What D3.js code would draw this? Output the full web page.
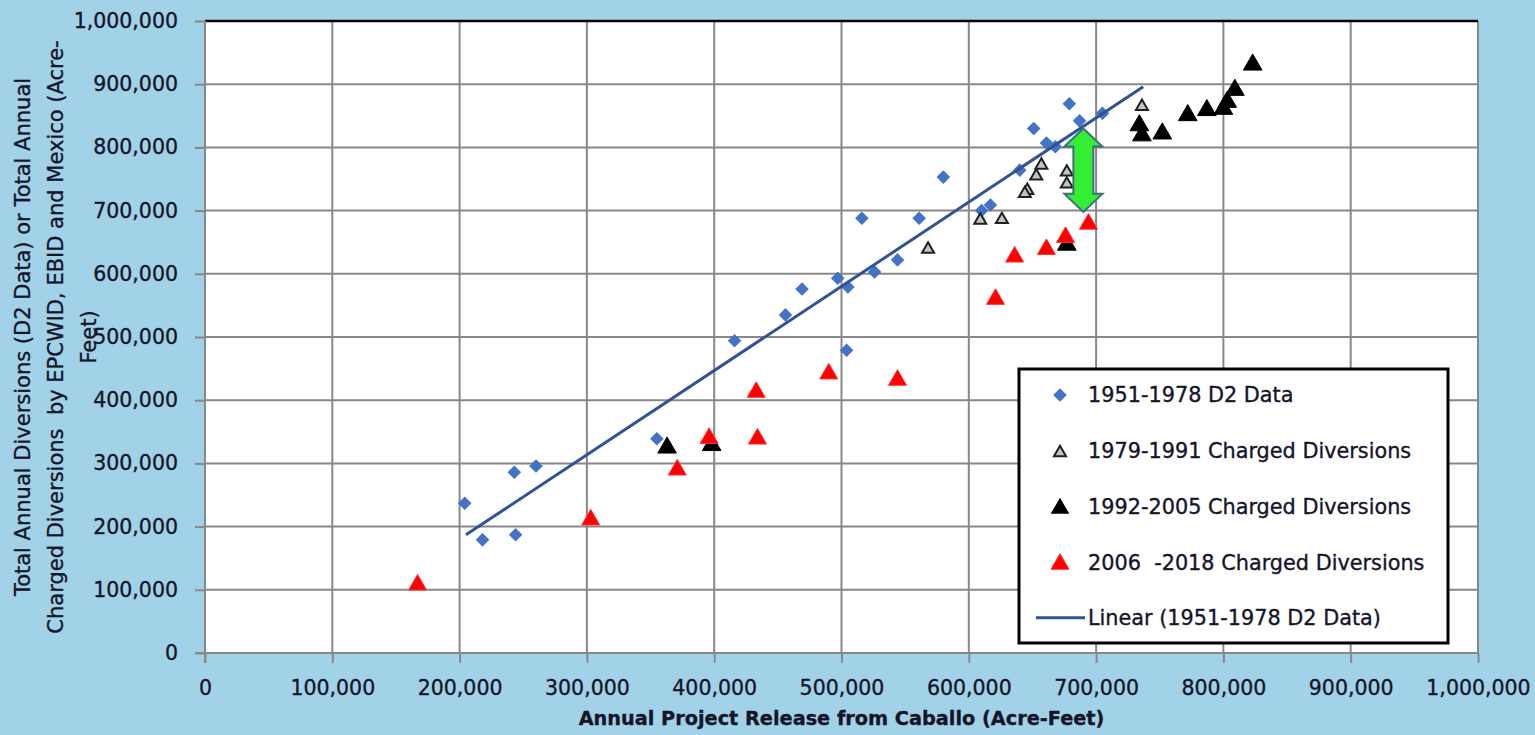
<!DOCTYPE html>
<html>
<head>
<meta charset="utf-8">
<script src="https://cdn.jsdelivr.net/npm/d3@7/dist/d3.min.js"></script>
<style>
  html, body { margin: 0; padding: 0; background: #a1d2e7; }
  svg { display: block; font-family: "DejaVu Sans", Verdana, sans-serif; }
  svg text { white-space: pre; }
</style>
</head>
<body>
<svg id="chart" width="1535" height="735"></svg>
<script>
// Annual project release from Caballo (acre-feet) vs. annual diversions (acre-feet)

// 1951-1978 D2 data
const d2Release   = [204000, 218000, 244000, 243000, 260000, 355000, 416000, 456000, 469000, 497000,
                     505000, 504000, 516000, 526000, 544000, 561000, 580000, 610000, 617000, 640000,
                     651000, 661000, 668000, 679000, 687000, 705000];
const d2Diversion = [237000, 179000, 187000, 286000, 296000, 339000, 494000, 535000, 576000, 593000,
                     579000, 479000, 688000, 603000, 622000, 688000, 753000, 700000, 709000, 764000,
                     830000, 807000, 801000, 869000, 842000, 854000];

// Linear trendline of the D2 data: release range and fitted diversions at its ends
const trendRelease   = [205000, 737000];
const trendDiversion = [187000, 896000];

// 1979-1991 charged diversions
const c7991Release   = [568000, 609000, 626000, 646000, 644000, 657000, 653000, 677000, 677000, 736000];
const c7991Diversion = [642000, 688000, 689000, 735000, 730000, 775000, 758000, 764000, 745000, 868000];

// 1992-2005 charged diversions
const c9205Release   = [363000, 398000, 677000, 734000, 736000, 752000, 772000, 787000, 800000, 803000, 809000, 823000];
const c9205Diversion = [328000, 332000, 649000, 838000, 822000, 825000, 854000, 862000, 864000, 875000, 894000, 934000];

// 2006-2018 charged diversions
const c0618Release   = [167000, 303000, 371000, 396000, 434000, 433000, 490000, 544000, 621000, 636000, 661000, 676000, 694000];
const c0618Diversion = [111000, 214000, 293000, 343000, 342000, 416000, 445000, 435000, 563000, 630000, 642000, 661000, 682000];

// Gap annotation (double arrow between the D2 trend and recent diversions)
const gapRelease = 690000;
const gapTop = 830000;
const gapBottom = 698000;

const xTicks = [0, 100000, 200000, 300000, 400000, 500000, 600000, 700000, 800000, 900000, 1000000];
const yTicks = [0, 100000, 200000, 300000, 400000, 500000, 600000, 700000, 800000, 900000, 1000000];

const legendLabels = [
  "1951-1978 D2 Data",
  "1979-1991 Charged Diversions",
  "1992-2005 Charged Diversions",
  "2006  -2018 Charged Diversions",
  "Linear (1951-1978 D2 Data)"
];

const xTitle = "Annual Project Release from Caballo (Acre-Feet)";
const yTitleLines = [
  "Total Annual Diversions (D2 Data) or Total Annual",
  "Charged Diversions  by EPCWID, EBID and Mexico (Acre-",
  "Feet)"
];

// ---------------------------------------------------------------
const W = 1535, H = 735;
const plot = { left: 205, right: 1478, top: 21, bottom: 653 };
const gridColor = "#888888";
const textColor = "#15152a";
const blue = "#4472c4";
const trendColor = "#2f5496";

const svg = d3.select("#chart");
svg.append("rect").attr("width", W).attr("height", H).attr("fill", "#a1d2e7");

const x = d3.scaleLinear().domain([0, 1000000]).range([plot.left, plot.right]);
const y = d3.scaleLinear().domain([0, 1000000]).range([plot.bottom, plot.top]);

// plot area
svg.append("rect")
  .attr("x", plot.left).attr("y", plot.top)
  .attr("width", plot.right - plot.left).attr("height", plot.bottom - plot.top)
  .attr("fill", "#ffffff");

// gridlines
const grid = svg.append("g");
grid.selectAll("line.v").data(xTicks.filter(d => d > 0)).join("line")
  .attr("x1", d => x(d)).attr("x2", d => x(d))
  .attr("y1", plot.top).attr("y2", plot.bottom)
  .attr("stroke", gridColor).attr("stroke-width", 2);
grid.selectAll("line.h").data(yTicks.filter(d => d > 0)).join("line")
  .attr("x1", plot.left).attr("x2", plot.right)
  .attr("y1", d => y(d)).attr("y2", d => y(d))
  .attr("stroke", gridColor).attr("stroke-width", 2);

// top border of plot area
svg.append("line")
  .attr("x1", plot.left).attr("x2", plot.right)
  .attr("y1", plot.top).attr("y2", plot.top)
  .attr("stroke", "#000").attr("stroke-width", 2.5);

// shared text style
function styleText(sel, size, weight) {
  sel.attr("fill", textColor)
    .attr("stroke", textColor)
    .attr("stroke-width", 0.35)
    .style("font-size", size + "px")
    .style("font-weight", weight || "normal")
    .style("font-family", '"DejaVu Sans", Verdana, sans-serif');
  return sel;
}

// axes
const fmt = d3.format(",");
const xAxis = d3.axisBottom(x).tickValues(xTicks).tickFormat(fmt).tickSize(10).tickPadding(17).tickSizeOuter(0);
const yAxis = d3.axisLeft(y).tickValues(yTicks).tickFormat(fmt).tickSize(10).tickPadding(17).tickSizeOuter(0);

const gx = svg.append("g").attr("transform", `translate(0,${plot.bottom})`).call(xAxis);
const gy = svg.append("g").attr("transform", `translate(${plot.left},0)`).call(yAxis);

[gx, gy].forEach(g => {
  g.select(".domain").attr("stroke", gridColor).attr("stroke-width", 2);
  g.selectAll(".tick line").attr("stroke", gridColor).attr("stroke-width", 2);
  styleText(g.selectAll(".tick text"), 20.5);
});
// axis lines extend past the origin like the tick marks
gx.select(".domain").attr("d", `M${plot.left - 10},0H${plot.right}`);
gy.select(".domain").attr("d", `M0,${plot.top}V${plot.bottom + 10}`);

// markers
const zip = (xs, ys) => xs.map((v, i) => ({ x: v, y: ys[i] }));
const diamond = d3.symbol().type(d3.symbolSquare).size(92)();
const tri = s => d3.symbol().type(d3.symbolTriangle).size(s)();

function drawSeries(data, path, fill, stroke, sw, dy, rotate) {
  svg.append("g").selectAll("path").data(data).join("path")
    .attr("d", path)
    .attr("transform", d => `translate(${x(d.x)},${y(d.y) + dy})` + (rotate ? " rotate(45)" : ""))
    .attr("fill", fill)
    .attr("stroke", stroke)
    .attr("stroke-width", sw);
}

drawSeries(zip(d2Release, d2Diversion), diamond, blue, "none", 0, 0, true);

// trendline
svg.append("path")
  .datum(zip(trendRelease, trendDiversion))
  .attr("d", d3.line().x(d => x(d.x)).y(d => y(d.y)))
  .attr("fill", "none")
  .attr("stroke", trendColor).attr("stroke-width", 3);

drawSeries(zip(c7991Release, c7991Diversion), tri(62), "#c4c4c4", "#202020", 2, 2, false);
drawSeries(zip(c9205Release, c9205Diversion), tri(150), "#000000", "#000000", 1, 2, false);
drawSeries(zip(c0618Release, c0618Diversion), tri(140), "#ff0000", "#ff3030", 1, 2, false);

// double arrow annotation
{
  const ax = x(gapRelease), y1 = y(gapTop), y2 = y(gapBottom);
  const sw = 10, hw = 19, hl = 18;
  const pts = [
    [ax, y1], [ax + hw, y1 + hl], [ax + sw, y1 + hl], [ax + sw, y2 - hl], [ax + hw, y2 - hl],
    [ax, y2], [ax - hw, y2 - hl], [ax - sw, y2 - hl], [ax - sw, y1 + hl], [ax - hw, y1 + hl]
  ];
  svg.append("path")
    .attr("d", d3.line()(pts) + "Z")
    .attr("fill", "#33ee33")
    .attr("stroke", "#3f6e7c")
    .attr("stroke-width", 2)
    .attr("stroke-linejoin", "miter");
}

// legend
const lg = svg.append("g");
lg.append("rect")
  .attr("x", 1019).attr("y", 369).attr("width", 429).attr("height", 274)
  .attr("fill", "#ffffff").attr("stroke", "#000").attr("stroke-width", 3);
const rowY = i => 395 + i * 55.7;
const mkX = 1060;
lg.append("path").attr("d", diamond).attr("transform", `translate(${mkX},${rowY(0)}) rotate(45)`).attr("fill", blue);
lg.append("path").attr("d", tri(62)).attr("transform", `translate(${mkX},${rowY(1) + 2})`).attr("fill", "#c4c4c4").attr("stroke", "#202020").attr("stroke-width", 2);
lg.append("path").attr("d", tri(150)).attr("transform", `translate(${mkX},${rowY(2) + 2})`).attr("fill", "#000");
lg.append("path").attr("d", tri(140)).attr("transform", `translate(${mkX},${rowY(3) + 2})`).attr("fill", "#ff0000").attr("stroke", "#ff3030");
lg.append("line").attr("x1", 1036).attr("x2", 1085).attr("y1", rowY(4)).attr("y2", rowY(4))
  .attr("stroke", trendColor).attr("stroke-width", 3);
styleText(lg.selectAll("text").data(legendLabels).join("text")
  .attr("x", 1088).attr("y", (d, i) => rowY(i))
  .attr("dy", "0.36em")
  .text(d => d), 20.8);

// axis titles
styleText(svg.append("text")
  .attr("x", (plot.left + plot.right) / 2).attr("y", 718)
  .attr("text-anchor", "middle").attr("dy", "0.36em")
  .text(xTitle), 19.3, "bold");

const ycx = [22, 55, 88];
yTitleLines.forEach((t, i) => {
  styleText(svg.append("text")
    .attr("transform", `translate(${ycx[i]},337) rotate(-90)`)
    .attr("text-anchor", "middle").attr("dy", "0.36em")
    .text(t), 21);
});
</script>
</body>
</html>
